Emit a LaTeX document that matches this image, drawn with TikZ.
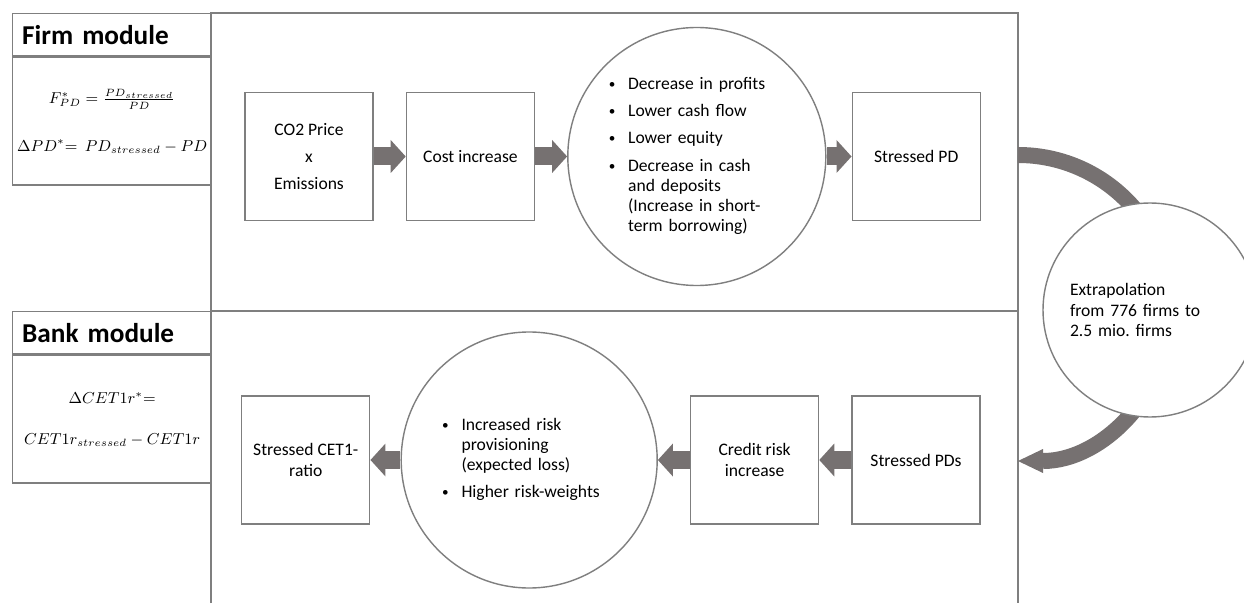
\documentclass[tikz,border=0pt]{standalone}
\usepackage{amsmath}
\usepackage{fontspec}
\setmainfont{Carlito}
\usepackage{xcolor}
\usepackage{tikz}
\usetikzlibrary{arrows.meta,positioning,calc}

\definecolor{linegray}{RGB}{127,127,127}
\definecolor{arrowgray}{RGB}{118,113,113}
\newcommand{\bul}{\makebox[11pt][l]{\raisebox{0.5pt}{\fontsize{7.5}{7.5}\selectfont\textbullet}}}

\begin{document}
\begin{tikzpicture}[
        node distance=0.64cm,
        box/.style={rectangle, draw=linegray, line width=0.8pt, minimum width=2.56cm, minimum height=2.56cm, font=\fontsize{10}{11.5}\selectfont, align=center},
        bubble/.style={circle, draw=linegray, line width=0.8pt, fill=white, inner sep=0pt, font=\fontsize{10}{11.5}\selectfont},
        modtitle/.style={rectangle, draw=linegray, line width=0.8pt, anchor=north west, minimum width=3.98cm, minimum height=0.84cm, text width=3.6cm, align=left, font=\fontsize{15.5}{18}\selectfont\bfseries},
        formula/.style={rectangle, draw=linegray, line width=0.8pt, inner sep=0pt, minimum width=3.98cm, minimum height=2.56cm, align=center, font=\fontsize{9.2}{11}\selectfont},
        arrow/.style={-{Triangle[length=0.3cm, width=0.66cm, line width=0pt]}, line width=0.36cm, draw=arrowgray},
        bigarrow/.style={-{Triangle[length=0.5cm, width=0.48cm, line width=0pt]}, line width=0.32cm, draw=arrowgray}
    ]
        \useasboundingbox (0,0) rectangle (24.88,12.06);

        % Frame
        \draw[linegray, line width=0.8pt] (4.22,0) -- (4.22,11.8) -- (20.36,11.8) -- (20.36,0);
        \draw[linegray, line width=0.8pt] (4.22,5.84) -- (20.36,5.84);

        % Module boxes
        \node[modtitle] (firmtitle) at (0.24,11.8) {Firm module};
        \node[formula, below=0pt of firmtitle] (firmeq) {$F^{*}_{PD} = \frac{PD_{stressed}}{PD}$\\[16pt]$\Delta PD^{*}{=}\ \ PD_{stressed} - PD$};
        \node[modtitle] (banktitle) at (0.24,5.84) {Bank module};
        \node[formula, below=0pt of banktitle] (bankeq) {$\Delta CET1r^{*}{=}$\\[12pt]$CET1r_{stressed} - CET1r$};

        % Firm row
        \node[box] (co2) at (6.18,8.93) {CO2 Price\\[4pt]x\\[4pt]Emissions};
        \node[box, right=of co2] (cost) {Cost increase};
        \node[bubble, minimum size=5.16cm, text width=3.52cm, align=left, right=of cost] (effects) {%
            \begin{tabular}{@{}l@{}l@{}}
                \bul & Decrease in profits\\[4pt]
                \bul & Lower cash flow\\[4pt]
                \bul & Lower equity\\[4pt]
                \bul & Decrease in cash\\
                     & and deposits\\
                     & (Increase in short-\\
                     & term borrowing)
            \end{tabular}};
        \node[box, right=0.5cm of effects] (spd) {Stressed PD};

        % Bank row
        \node[box] (spds) at (18.32,2.86) {Stressed PDs};
        \node[box, left=of spds] (credit) {Credit risk\\increase};
        \node[bubble, minimum size=5.12cm, text width=3.48cm, align=left, left=of credit] (provision) {%
            \begin{tabular}{@{}l@{}l@{}}
                \bul & Increased risk\\
                     & provisioning\\
                     & (expected loss)\\[4pt]
                \bul & Higher risk-weights
            \end{tabular}};
        \node[box, left=0.6cm of provision] (cet) {Stressed CET1-\\ratio};

        % Arrows
        \draw[arrow] (co2) -- (cost);
        \draw[arrow] (cost) -- (effects);
        \draw[arrow] (effects) -- (spd);
        \draw[arrow] (spds) -- (credit);
        \draw[arrow] (credit) -- (provision);
        \draw[arrow] (provision) -- (cet);

        % Extrapolation
        \coordinate (arcfrom) at (20.36,8.96);
        \draw[bigarrow] (arcfrom) arc[start angle=90, end angle=-90, radius=3.06cm];
        \node[bubble, minimum size=4.28cm, text width=3.2cm, align=left] (extrap) at (23.0,5.86) {Extrapolation\\from 776 firms to\\2.5 mio.\ firms};
    \end{tikzpicture}
\end{document}
